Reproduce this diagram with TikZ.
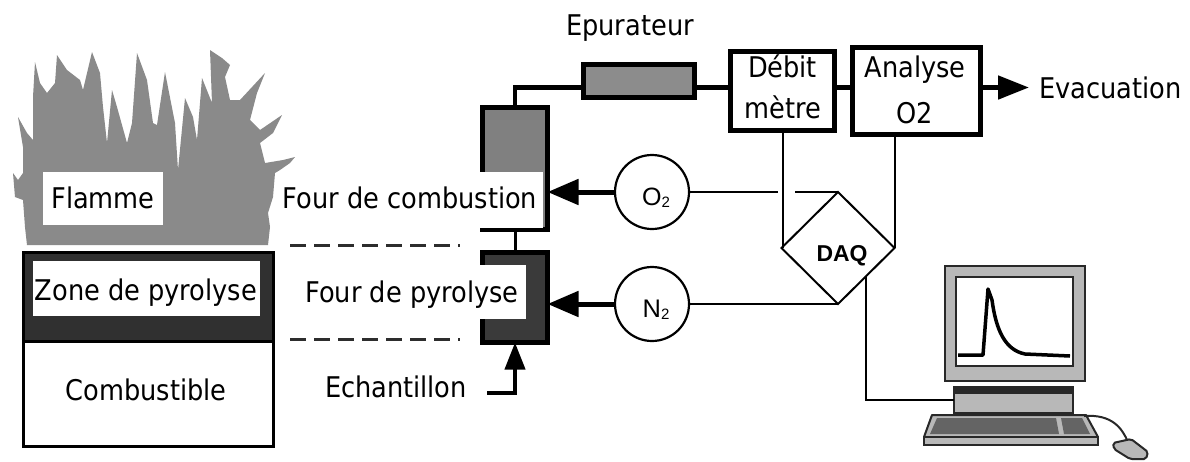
\documentclass[tikz,border=0pt]{standalone}
\usepackage{fontspec}
\setmainfont{DejaVu Sans Condensed}
\newfontfamily\helv{Liberation Sans}
\usetikzlibrary{arrows.meta,shapes.geometric,calc}
\definecolor{flamegray}{RGB}{138,138,138}
\definecolor{zonedark}{RGB}{48,48,48}
\definecolor{furngray}{RGB}{128,128,128}
\definecolor{pyrodark}{RGB}{58,58,58}
\definecolor{epurgray}{RGB}{140,140,140}
\definecolor{pcgray}{RGB}{184,184,184}
\definecolor{pcdark}{RGB}{40,40,40}
\definecolor{keygray}{RGB}{100,100,100}
\definecolor{dashgray}{RGB}{45,45,45}
\newcommand{\gasname}[1]{\resizebox{!}{17.5pt}{\helv #1}\raisebox{-2.5pt}{\resizebox{!}{10.5pt}{\helv 2}}}
\begin{document}
\begin{tikzpicture}[x=1pt,y=-1pt,
  lbl/.style={font=\fontsize{28.5}{34}\selectfont, inner sep=0, anchor=base},
  gaslbl/.style={inner sep=0, anchor=base},
  box/.style={draw, inner sep=0, outer sep=0},
  blank/.style={fill=white, inner sep=0, outer sep=0},
  thinln/.style={line width=2},
  thickln/.style={line width=5},
  dashln/.style={line width=3, dashgray, dash pattern=on 16pt off 8pt},
  bigtip/.style={-{Triangle[length=31pt,width=25pt]}},
  gas/.style={circle, draw, line width=2.2, minimum size=74, inner sep=0, outer sep=0}
]
\useasboundingbox (0,0) rectangle (1190,461);

% --- flame above the burning sample
\fill[flamegray] (27,245) -- (25,227) -- (23,200) -- (15,197) -- (13,173) -- (18,180)
  -- (23,173) -- (23,147) -- (18,117) -- (27,133) -- (33,140) -- (33,97) -- (35,62)
  -- (40,83) -- (47,93) -- (55,83) -- (57,55) -- (67,70) -- (80,80) -- (83,90)
  -- (92,52) -- (100,73) -- (103,107) -- (107,143) -- (112,90) -- (117,107)
  -- (127,143) -- (132,123) -- (137,53) -- (147,80) -- (153,123) -- (157,125)
  -- (165,72) -- (175,123) -- (178,170) -- (185,98) -- (193,117) -- (197,140)
  -- (202,78) -- (212,103) -- (210,50) -- (222,58) -- (230,65) -- (225,77)
  -- (230,100) -- (240,100) -- (265,73) -- (257,93) -- (250,120) -- (260,130)
  -- (282,115) -- (273,133) -- (260,143) -- (265,163) -- (283,160) -- (295,157)
  -- (290,163) -- (280,170) -- (275,173) -- (273,197) -- (268,213) -- (270,227)
  -- (268,245) -- cycle;
\node[blank, minimum width=120, minimum height=53] (flammebox) at (103,198.5) {};
\node[lbl] (flamme) at (103,208) {Flamme};

% --- sample: pyrolysis zone over the fuel
\node[box, line width=3, fill=zonedark, minimum width=250, minimum height=89] (zone) at (148.5,297) {};
\node[box, line width=3, fill=white, minimum width=250, minimum height=105] (fuel) at (148.5,394) {};
\node[blank, minimum width=227, minimum height=55] (zonebox) at (146.5,288.5) {};
\node[lbl] (zonetxt) at (146,300) {Zone de pyrolyse};
\node[lbl] (fueltxt) at (146,400) {Combustible};

% --- dashed guides between sample and furnaces
\coordinate (dashAa) at (290,245);
\coordinate (dashAb) at (460,245);
\coordinate (dashBa) at (290,339);
\coordinate (dashBb) at (460,339);
\draw[dashln] (dashAa) -- (dashAb);
\draw[dashln] (dashBa) -- (dashBb);

% --- furnaces
\node[box, line width=5, fill=furngray, minimum width=65, minimum height=122] (comb) at (515,168.5) {};
\node[box, line width=5, fill=pyrodark, minimum width=65, minimum height=90] (pyro) at (515,297.5) {};
\draw[line width=3] (comb.south) -- (pyro.north);
\node[blank, minimum width=266, minimum height=56] (combbox) at (410,200) {};
\node[lbl] (combtxt) at (410,208) {Four de combustion};
\node[blank, minimum width=226, minimum height=54] (pyrobox) at (413,292) {};
\node[lbl] (pyrotxt) at (412,302) {Four de pyrolyse};

% --- sample feed
\node[lbl] (echtxt) at (396,397) {Echantillon};
\coordinate (echin) at (487,393);
\draw[line width=4, -{Triangle[length=27pt,width=20pt]}] (echin) -| (pyro.south);

% --- gas line: scrubber, flow meter, O2 analyser
\node[box, line width=5, fill=epurgray, minimum width=111, minimum height=33] (epur) at (639,81) {};
\node[lbl] (epurtxt) at (630,35) {Epurateur};
\node[box, line width=5, fill=white, minimum width=104, minimum height=79] (debit) at (782.5,91) {};
\node[lbl] (debittxt) at (782.5,77) {Débit};
\node[lbl] (metretxt) at (782.5,118) {mètre};
\node[box, line width=5, fill=white, minimum width=128, minimum height=87] (analyse) at (916.5,91) {};
\node[lbl] (analysetxt) at (915,77) {Analyse};
\node[lbl] (otxt) at (915,123) {O2};

\coordinate (pipeR) at ([yshift=-6.5pt]epur.east);
\draw[line width=4.5] (comb.north) |- ([yshift=-6.5pt]epur.west);
\draw[thickln] (pipeR) -- (pipeR -| debit.west);
\draw[thickln] (pipeR -| debit.east) -- (pipeR -| analyse.west);
\coordinate (evac) at (1029,87.5);
\draw[thickln, -{Triangle[length=31pt,width=23pt]}] (pipeR -| analyse.east) -- (evac);
\node[lbl, anchor=base west] (evactxt) at (1039,98) {Evacuation};

% --- gas supplies
\node[gas] (o2) at (652,192) {};
\node[gaslbl] (o2txt) at (656,205) {\gasname{O}};
\node[gas] (n2) at (652,304) {};
\node[gaslbl] (n2txt) at (656,317) {\gasname{N}};
\draw[thickln, bigtip] (o2.west) -- (o2.west -| comb.east);
\draw[thickln, bigtip] (n2.west) -- (n2.west -| pyro.east);

% --- data acquisition
\node[diamond, draw, line width=2, minimum width=113, minimum height=112, inner sep=0, outer sep=0] (daq) at (838,248) {};
\node[gaslbl] (daqtxt) at (842,261) {\resizebox{51pt}{!}{\helv\bfseries DAQ}};
\coordinate (jumpL) at (778,192);
\coordinate (jumpR) at (795,192);
\draw[thinln] (o2.east) -- (jumpL);
\draw[thinln] (jumpR) -- (daq.north);
\draw[thinln] (n2.east) -- (daq.south);
\draw[thinln] (debit.south) -- (debit.south |- daq.west);
\draw[thinln] (analyse.south -| daq.east) -- (daq.east);

% --- computer
\node[box, line width=2, draw=pcdark, fill=pcgray, minimum width=140, minimum height=115] (monitor) at (1015,323.5) {};
\node[box, line width=2.5, draw=pcdark, fill=white, minimum width=117, minimum height=89] (screen) at (1014.5,321.5) {};
\draw[line width=3.5, line join=round] (958,355) -- (983,355) -- (988,289) -- (992,300)
  .. controls (996,330) and (1005,350) .. (1025,354) -- (1070,356);
\node[box, line width=2, draw=pcdark, fill=pcgray, minimum width=119, minimum height=26] (stand) at (1013.5,400) {};
\fill[pcdark] (stand.north west) rectangle ([yshift=-7pt]stand.north east);
\draw[line width=2, draw=pcdark, fill=pcgray, line join=round] (932,415) -- (1086,415) -- (1098,437) -- (924,437) -- cycle;
\fill[keygray] (937,418) -- (1056,418) -- (1059,434) -- (930,434) -- cycle;
\fill[keygray] (1061,418) -- (1082,418) -- (1090,434) -- (1064,434) -- cycle;
\draw[line width=2, draw=pcdark, fill=pcgray] (924,437) rectangle (1098,445);
\draw[line width=2, pcdark] (1084,416) .. controls (1112,414) and (1122,428) .. (1128,442);
\draw[line width=2, draw=pcdark, fill=pcgray, rounded corners=2] (1113,443) -- (1131,439) -- (1148,452) -- (1146,459) -- (1130,459) -- (1114,449) -- cycle;

\coordinate (daqout) at ($(daq.east)!0.5!(daq.south)$);
\draw[thinln] (daqout) |- (stand.west);
\end{tikzpicture}
\end{document}
